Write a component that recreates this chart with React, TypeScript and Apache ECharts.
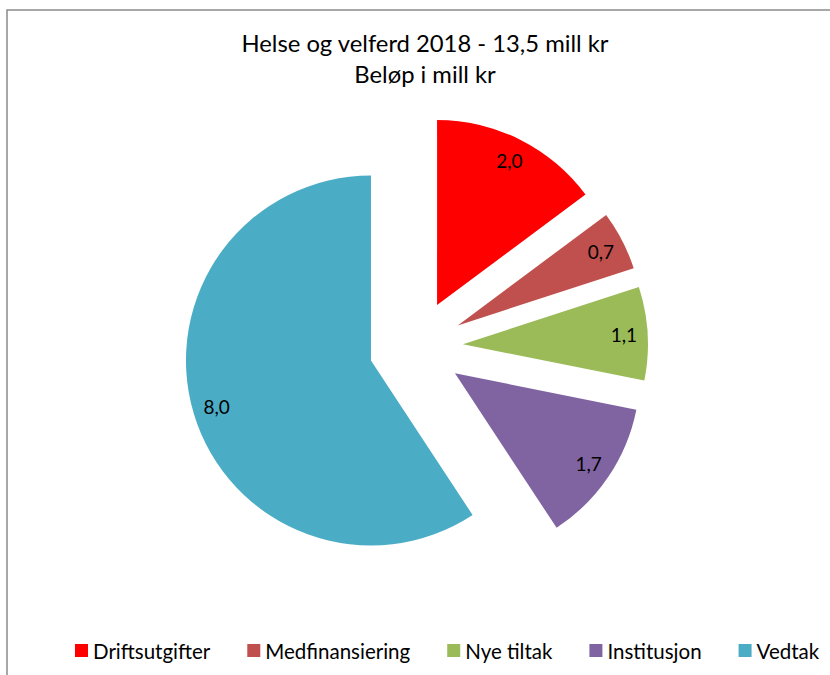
import React, { useEffect, useRef } from "react";
import * as echarts from "echarts";

const categories = ["Driftsutgifter", "Medfinansiering", "Nye tiltak", "Institusjon", "Vedtak"];
const values = [2.0, 0.7, 1.1, 1.7, 8.0];
const colors = ["#FF0000", "#C0504D", "#9BBB59", "#8064A2", "#4BACC6"];
const titleLines = ["Helse og velferd 2018 - 13,5 mill kr", "Beløp i mill kr"];

const FONT = "Lato, 'Noto Sans', sans-serif";

export default function App() {
  const ref = useRef<HTMLDivElement>(null);
  useEffect(() => {
    if (!ref.current) return;
    const chart = echarts.init(ref.current, undefined, { renderer: "svg" });
    const center = [416, 347];
    const radius = 185;
    const offset = 47;
    const visibleData = categories.map((name, i) => ({
      name,
      value: values[i],
      selected: true,
      itemStyle: { color: colors[i] },
    }));
    const labelData = categories.map((name, i) => ({
      name,
      value: values[i],
      selected: true,
      itemStyle: { color: "rgba(0,0,0,0)" },
    }));
    chart.setOption({
      animation: false,
      backgroundColor: "#fff",
      title: {
        text: titleLines.join("\n"),
        left: 420,
        textAlign: "center",
        top: 22,
        textStyle: {
          fontFamily: FONT,
          fontWeight: "normal",
          fontSize: 23.8,
          lineHeight: 31,
          color: "#000",
        },
      },
      legend: {
        data: categories,
        top: 640,
        left: 75,
        padding: 0,
        itemWidth: 13,
        itemHeight: 13,
        itemGap: 37,
        icon: "rect",
        textStyle: { fontFamily: FONT, fontSize: 20.5, color: "#000", padding: [0, 0, 0, 0] },
      },
      graphic: [
        {
          type: "rect",
          shape: { x: 7, y: 10, width: 830, height: 700 },
          style: { fill: "none", stroke: "#8a8a8a", lineWidth: 1.5 },
          silent: true,
          z: -10,
        },
      ],
      series: [
        {
          type: "pie",
          center,
          radius: [0, radius],
          startAngle: 90,
          clockwise: true,
          selectedMode: "multiple",
          selectedOffset: offset,
          label: { show: false },
          labelLine: { show: false },
          emphasis: { disabled: true },
          select: { disabled: false, itemStyle: {} },
          itemStyle: { borderWidth: 0 },
          data: visibleData,
        },
        {
          type: "pie",
          center,
          radius: [radius * 0.71, radius],
          startAngle: 90,
          clockwise: true,
          selectedMode: "multiple",
          selectedOffset: offset,
          silent: true,
          label: {
            show: true,
            position: "inside",
            formatter: (p: any) => p.value.toFixed(1).replace(".", ","),
            fontFamily: FONT,
            fontSize: 19,
            color: "#000",
          },
          labelLine: { show: false },
          emphasis: { disabled: true },
          itemStyle: { borderWidth: 0 },
          data: labelData,
        },
      ],
    });
    return () => chart.dispose();
  }, []);
  return (
    <div
      ref={ref}
      style={{ position: "absolute", left: 0, top: 0, width: 830, height: 675 }}
    />
  );
}
